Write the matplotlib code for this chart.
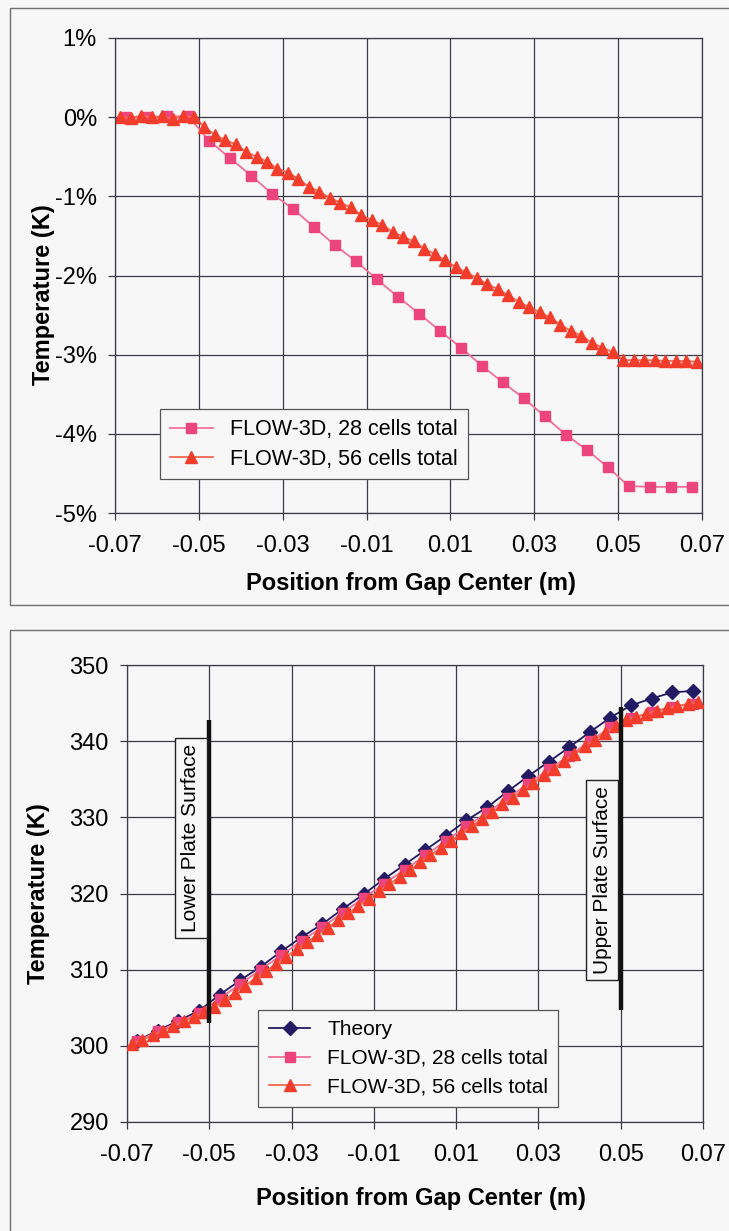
import numpy as np
import matplotlib.pyplot as plt
from matplotlib.patches import Rectangle

plt.rcParams['font.family'] = ['Liberation Sans', 'DejaVu Sans']
plt.rcParams['axes.unicode_minus'] = False


# cell centres (m)
x28 = [-0.0675, -0.0625, -0.0575, -0.0525, -0.0475, -0.0425, -0.0375,
       -0.0325, -0.0275, -0.0225, -0.0175, -0.0125, -0.0075, -0.0025,
       0.0025, 0.0075, 0.0125, 0.0175, 0.0225, 0.0275, 0.0325,
       0.0375, 0.0425, 0.0475, 0.0525, 0.0575, 0.0625, 0.0675]

x56 = [-0.06875, -0.06625, -0.06375, -0.06125, -0.05875, -0.05625, -0.05375,
       -0.05125, -0.04875, -0.04625, -0.04375, -0.04125, -0.03875, -0.03625,
       -0.03375, -0.03125, -0.02875, -0.02625, -0.02375, -0.02125, -0.01875,
       -0.01625, -0.01375, -0.01125, -0.00875, -0.00625, -0.00375, -0.00125,
       0.00125, 0.00375, 0.00625, 0.00875, 0.01125, 0.01375, 0.01625,
       0.01875, 0.02125, 0.02375, 0.02625, 0.02875, 0.03125, 0.03375,
       0.03625, 0.03875, 0.04125, 0.04375, 0.04625, 0.04875, 0.05125,
       0.05375, 0.05625, 0.05875, 0.06125, 0.06375, 0.06625, 0.06875]

# top chart: relative error (%)
err28 = [0.00, 0.00, 0.01, 0.01, -0.30, -0.52, -0.74, -0.97, -1.16, -1.39,
         -1.62, -1.82, -2.05, -2.27, -2.48, -2.70, -2.91, -3.14, -3.35, -3.55,
         -3.78, -4.01, -4.20, -4.42, -4.66, -4.67, -4.67, -4.67]

err56 = [0.00, -0.01, 0.02, 0.00, 0.01, -0.02, 0.02, 0.00,
         -0.12, -0.22, -0.29, -0.34, -0.44, -0.50, -0.56, -0.65, -0.70, -0.78,
         -0.88, -0.94, -1.02, -1.08, -1.14, -1.24, -1.30, -1.36, -1.45, -1.51,
         -1.57, -1.66, -1.73, -1.81, -1.89, -1.96, -2.03, -2.11, -2.17, -2.25,
         -2.33, -2.40, -2.46, -2.53, -2.62, -2.70, -2.76, -2.85, -2.91, -2.97,
         -3.07, -3.07, -3.07, -3.07, -3.08, -3.08, -3.08, -3.09]

# bottom chart: temperature (K)
theory = [300.7, 302.0, 303.3, 304.6, 306.7, 308.6, 310.4, 312.4, 314.3, 316.0,
          318.0, 319.9, 321.9, 323.8, 325.7, 327.6, 329.6, 331.3, 333.4, 335.4,
          337.3, 339.2, 341.2, 343.1, 344.7, 345.6, 346.4, 346.6]

temp28 = [300.6, 301.9, 303.1, 304.3, 306.2, 308.1, 310.0, 311.9, 313.8, 315.6,
          317.5, 319.4, 321.3, 323.1, 325.0, 326.9, 328.8, 330.6, 332.5, 334.4,
          336.3, 338.1, 340.0, 341.8, 343.0, 343.8, 344.5, 344.9]

temp56 = [300.2, 300.8, 301.4, 302.0, 302.6, 303.2, 303.8, 304.4,
          305.1, 306.0, 307.0, 307.9, 308.9, 309.8, 310.8, 311.7, 312.7, 313.6,
          314.6, 315.5, 316.5, 317.4, 318.4, 319.3, 320.3, 321.2, 322.2, 323.1,
          324.1, 325.0, 326.0, 326.9, 327.9, 328.8, 329.8, 330.7, 331.7, 332.6,
          333.6, 334.5, 335.5, 336.4, 337.4, 338.3, 339.3, 340.2, 341.1, 342.0,
          342.8, 343.2, 343.6, 344.0, 344.3, 344.6, 344.9, 345.1]

xticks = [-0.07, -0.05, -0.03, -0.01, 0.01, 0.03, 0.05, 0.07]
xtick_labels = ['-0.07', '-0.05', '-0.03', '-0.01', '0.01', '0.03', '0.05', '0.07']
pct_ticks = [1, 0, -1, -2, -3, -4, -5]
temp_ticks = [290, 300, 310, 320, 330, 340, 350]

label28 = 'FLOW-3D, 28 cells total'
label56 = 'FLOW-3D, 56 cells total'

bg = '#f7f7f7'
grid_c = '#3c3c48'
navy = '#221a62'
pink = '#ec447c'
pink_line = '#f27098'
red = '#f23c2c'
red_line = '#f8684e'


def style_axes(ax):
    ax.set_facecolor(bg)
    ax.grid(True, color=grid_c, lw=0.9)
    ax.set_axisbelow(True)
    for s in ax.spines.values():
        s.set_color(grid_c)
        s.set_linewidth(0.9)
    ax.tick_params(direction='out', length=5, width=0.9, color=grid_c,
                   labelsize=17)
    ax.tick_params(axis='x', pad=11)
    ax.tick_params(axis='y', pad=8)
    ax.set_xlim(-0.07, 0.07)
    ax.set_xticks(xticks)
    ax.set_xticklabels(xtick_labels)


fig = plt.figure(figsize=(7.29, 12.31), dpi=100)
fig.patch.set_facecolor(bg)

fig.patches.append(Rectangle((10 / 729, 1 - 605 / 1231), 1.0, 597 / 1231,
                             transform=fig.transFigure, fill=False,
                             ec='#707070', lw=1.0))
fig.patches.append(Rectangle((10 / 729, -0.01), 1.0, 1 - 630 / 1231 + 0.01,
                             transform=fig.transFigure, fill=False,
                             ec='#707070', lw=1.0))

# ---- top chart
ax1 = fig.add_axes([115 / 729, 1 - 513 / 1231, 587 / 729, 475 / 1231])
style_axes(ax1)
ax1.plot(x28, err28, color=pink_line, lw=1.3, marker='s', ms=7,
         mfc=pink, mec=pink, label=label28)
ax1.plot(x56, err56, color=red_line, lw=1.3, marker='^', ms=8.5,
         mfc=red, mec=red, label=label56)
ax1.set_ylim(-5, 1)
ax1.set_yticks(pct_ticks)
ax1.set_yticklabels([f'{v}%' for v in pct_ticks])
ax1.set_xlabel('Position from Gap Center (m)', fontsize=17, fontweight='bold')
ax1.xaxis.set_label_coords(0.505, -0.125)
ax1.set_ylabel('Temperature (K)', fontsize=17, fontweight='bold')
ax1.yaxis.set_label_coords(-0.103, 0.46)
leg1 = ax1.legend(loc='upper left', bbox_to_anchor=(0.077, 0.218),
                  borderaxespad=0, fontsize=15.5, frameon=True, fancybox=False,
                  facecolor=bg, edgecolor='#555555', framealpha=1,
                  handlelength=2.0, labelspacing=0.4, borderpad=0.45)
leg1.get_frame().set_linewidth(0.9)

# ---- bottom chart
ax2 = fig.add_axes([127 / 729, 1 - 1122 / 1231, 576 / 729, 457 / 1231])
style_axes(ax2)
ax2.plot(x28, theory, color=navy, lw=1.3, marker='D', ms=7,
         mfc=navy, mec=navy, label='Theory', zorder=3)
ax2.plot(x28, temp28, color=pink_line, lw=1.3, marker='s', ms=7,
         mfc=pink, mec=pink, label=label28, zorder=4)
ax2.plot(x56, temp56, color=red_line, lw=1.3, marker='^', ms=8.5,
         mfc=red, mec=red, label=label56, zorder=5)
ax2.set_ylim(290, 350)
ax2.set_yticks(temp_ticks)
ax2.set_xlabel('Position from Gap Center (m)', fontsize=17, fontweight='bold')
ax2.xaxis.set_label_coords(0.51, -0.142)
ax2.set_ylabel('Temperature (K)', fontsize=17, fontweight='bold')
ax2.yaxis.set_label_coords(-0.134, 0.5)

# plate surfaces
ax2.plot([-0.05, -0.05], [303.0, 342.8], color='#111111', lw=3.2, zorder=6,
         solid_capstyle='butt')
ax2.plot([0.05, 0.05], [304.7, 344.5], color='#111111', lw=3.2, zorder=6,
         solid_capstyle='butt')
box = dict(boxstyle='square,pad=0.3', fc=bg, ec='#222222', lw=1.0)
ax2.text(-0.0545, 327.3, 'Lower Plate Surface', rotation=90, ha='center',
         va='center', fontsize=15, bbox=box, zorder=7)
ax2.text(0.0455, 321.8, 'Upper Plate Surface', rotation=90, ha='center',
         va='center', fontsize=15, bbox=box, zorder=7)

leg2 = ax2.legend(loc='upper left', bbox_to_anchor=(0.228, 0.245),
                  borderaxespad=0, fontsize=15, frameon=True, fancybox=False,
                  facecolor=bg, edgecolor='#555555', framealpha=1,
                  handlelength=2.0, labelspacing=0.45, borderpad=0.5)
leg2.get_frame().set_linewidth(0.9)
leg2.set_zorder(8)

fig.savefig('out.png', dpi=100, facecolor=bg)
